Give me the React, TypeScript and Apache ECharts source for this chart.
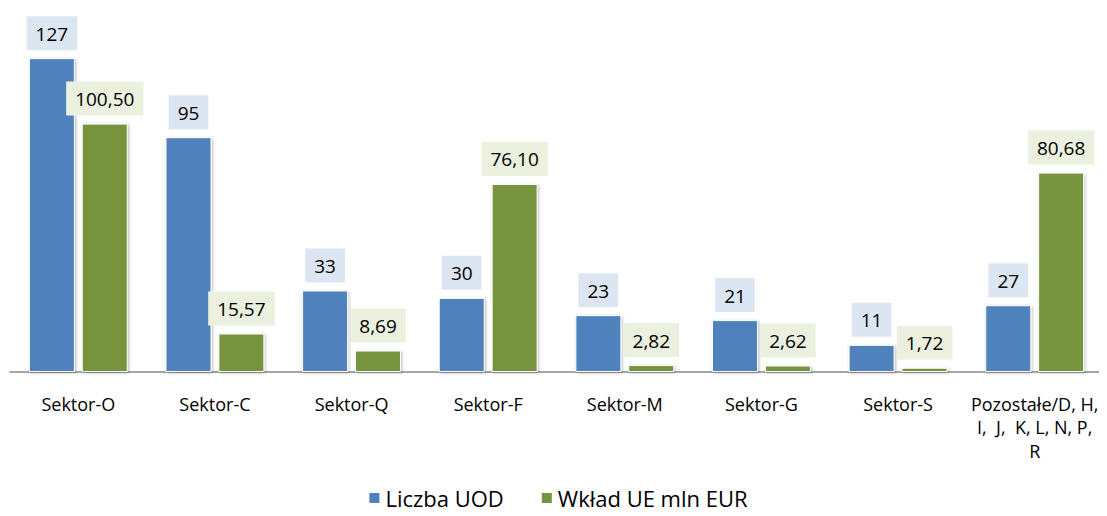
import React, { useEffect, useRef } from "react";
import * as echarts from "echarts";

const categories = [
  "Sektor-O",
  "Sektor-C",
  "Sektor-Q",
  "Sektor-F",
  "Sektor-M",
  "Sektor-G",
  "Sektor-S",
  "Pozostałe/D, H,\nI,  J,  K, L, N, P,\nR",
];
const liczbaUOD = [127, 95, 33, 30, 23, 21, 11, 27];
const wkladUE = [100.5, 15.57, 8.69, 76.1, 2.82, 2.62, 1.72, 80.68];

const FONT = "'Open Sans', 'Noto Sans', sans-serif";

export default function App() {
  const ref = useRef<HTMLDivElement>(null);
  useEffect(() => {
    if (!ref.current) return;
    const chart = echarts.init(ref.current, null, { renderer: "svg" });
    const barBase = {
      type: "bar" as const,
      barWidth: 46,
      barGap: "15%",
    };
    const labelBase = {
      show: true,
      position: "top" as const,
      distance: 8,
      color: "#000",
      fontSize: 19,
      fontFamily: FONT,
      padding: [8, 9, 7, 9],
    };
    const itemBase = {
      borderColor: "#fff",
      borderWidth: 1,
      shadowBlur: 3,
      shadowColor: "rgba(0,0,0,0.3)",
      shadowOffsetX: 1,
      shadowOffsetY: 1,
    };
    chart.setOption({
      animation: false,
      textStyle: { fontFamily: FONT },
      grid: { left: 2, right: 4, top: 18, bottom: 144, containLabel: false },
      legend: {
        bottom: 2,
        left: "center",
        itemWidth: 12,
        itemHeight: 12,
        itemGap: 36,
        icon: "rect",
        textStyle: { fontSize: 22, color: "#000", fontFamily: FONT },
        data: ["Liczba UOD", "Wkład UE mln EUR"],
      },
      xAxis: {
        type: "category",
        data: categories,
        axisLine: { lineStyle: { color: "#888", width: 1.5 } },
        axisTick: { show: false },
        axisLabel: {
          color: "#000",
          fontSize: 18,
          lineHeight: 23.5,
          margin: 20,
          interval: 0,
          fontFamily: FONT,
        },
      },
      yAxis: {
        type: "value",
        min: 0,
        max: 140,
        show: false,
        splitLine: { show: false },
      },
      series: [
        {
          ...barBase,
          name: "Liczba UOD",
          data: liczbaUOD,
          itemStyle: { color: "#4F81BD", ...itemBase },
          label: {
            ...labelBase,
            backgroundColor: "#DCE6F2",
            formatter: (p: any) => String(p.value),
          },
        },
        {
          ...barBase,
          name: "Wkład UE mln EUR",
          data: wkladUE,
          itemStyle: { color: "#77933C", ...itemBase },
          label: {
            ...labelBase,
            backgroundColor: "#EBF1DE",
            formatter: (p: any) => p.value.toFixed(2).replace(".", ","),
          },
        },
      ],
    });
    return () => chart.dispose();
  }, []);
  return <div ref={ref} style={{ width: 1099, height: 508 }} />;
}
